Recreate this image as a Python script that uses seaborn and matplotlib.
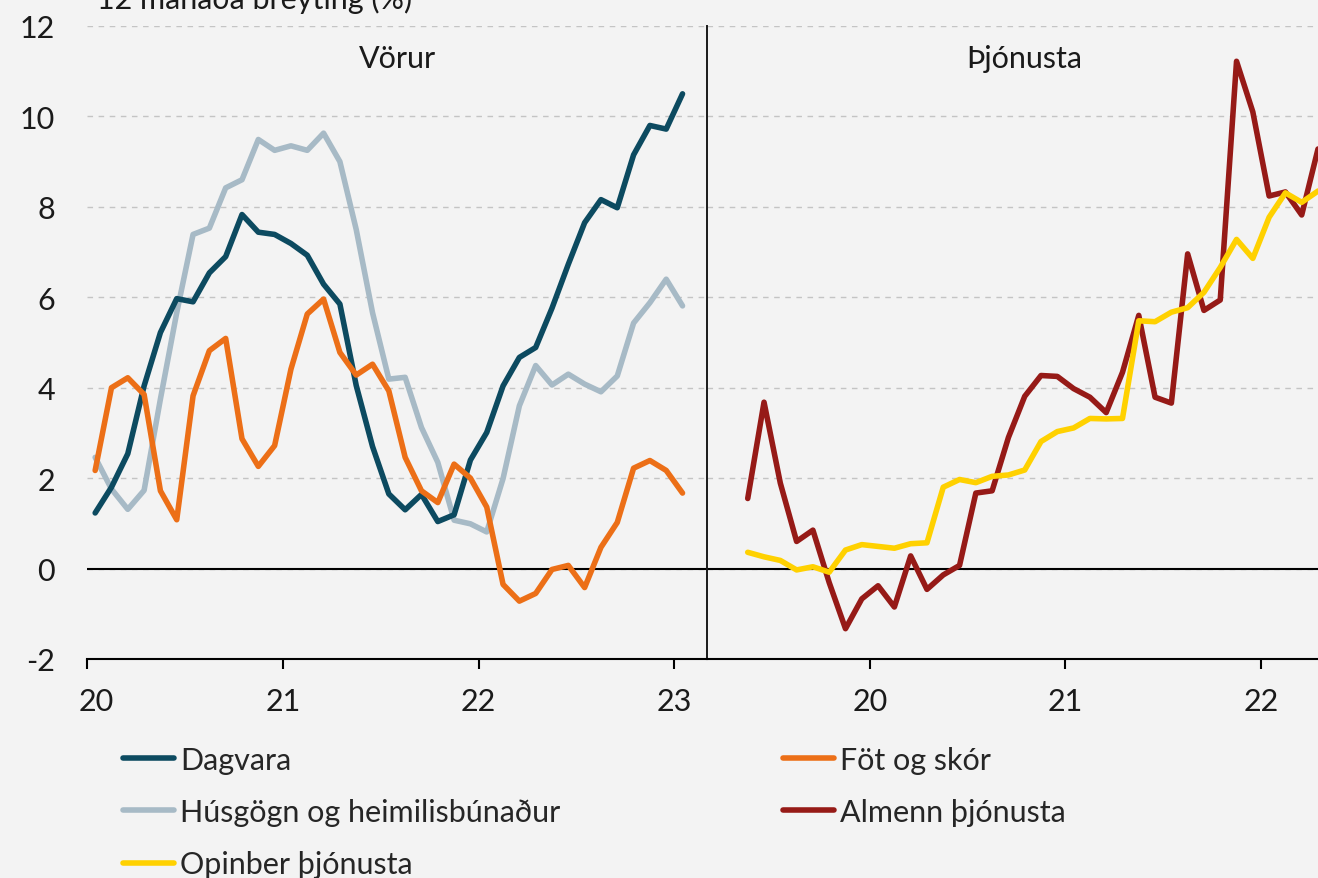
import numpy as np
import pandas as pd
import matplotlib
matplotlib.use("Agg")
import matplotlib.pyplot as plt
import matplotlib.transforms as mtransforms
import seaborn as sns

# =========================
# DATA (12 mánaða breyting, %)
# =========================
vorur_months = pd.date_range("2020-01-01", periods=37, freq="MS")
thjon_months = pd.date_range("2019-05-01", periods=36, freq="MS")

dagvara = [1.23, 1.8, 2.54, 4.04, 5.22, 5.97, 5.9, 6.54, 6.9, 7.83, 7.44, 7.39,
           7.19, 6.93, 6.29, 5.85, 4.05, 2.7, 1.65, 1.3, 1.64, 1.04, 1.19, 2.4,
           3.01, 4.04, 4.67, 4.89, 5.76, 6.73, 7.65, 8.16, 7.98, 9.15, 9.8, 9.72,
           10.5]
husgogn = [2.46, 1.76, 1.31, 1.73, 3.75, 5.66, 7.39, 7.53, 8.42, 8.6, 9.49, 9.25,
           9.35, 9.25, 9.63, 9.0, 7.5, 5.66, 4.19, 4.23, 3.12, 2.35, 1.07, 0.99,
           0.81, 1.99, 3.6, 4.49, 4.06, 4.3, 4.08, 3.91, 4.26, 5.43, 5.88, 6.4,
           5.81]
fot = [2.17, 4.0, 4.22, 3.85, 1.72, 1.08, 3.82, 4.82, 5.09, 2.87, 2.26, 2.72,
       4.41, 5.63, 5.96, 4.78, 4.28, 4.52, 3.93, 2.46, 1.72, 1.46, 2.31, 2.0,
       1.36, -0.35, -0.72, -0.55, -0.02, 0.07, -0.42, 0.47, 1.02, 2.22, 2.39, 2.17,
       1.67]
almenn = [1.55, 3.68, 1.89, 0.6, 0.85, -0.31, -1.33, -0.67, -0.38, -0.85,
          0.28, -0.46, -0.14, 0.07, 1.67, 1.72, 2.9, 3.81, 4.27, 4.25,
          3.98, 3.79, 3.45, 4.34, 5.6, 3.79, 3.66, 6.96, 5.71, 5.94,
          11.22, 10.1, 8.24, 8.33, 7.82, 9.28]
opinber = [0.36, 0.26, 0.18, -0.03, 0.04, -0.08, 0.41, 0.53, 0.49, 0.45,
           0.55, 0.57, 1.8, 1.97, 1.9, 2.04, 2.07, 2.18, 2.81, 3.03,
           3.11, 3.32, 3.31, 3.32, 5.48, 5.46, 5.67, 5.77, 6.11, 6.66,
           7.28, 6.86, 7.77, 8.31, 8.1, 8.35]

year_ticks = [2020, 2021, 2022, 2023]
colors = {
    "Dagvara": "#0c4a60",
    "Föt og skór": "#ec6f17",
    "Húsgögn og heimilisbúnaður": "#a7bac6",
    "Almenn þjónusta": "#961a17",
    "Opinber þjónusta": "#ffd100",
}

# =========================
# STYLE
# =========================
sns.set_theme(style="white")
plt.rcParams["font.family"] = ["Lato", "DejaVu Sans"]
BG = "#f3f3f3"
FS = 22
LW = 4.0


def month_pos(dates):
    # months since Jan 2020, centered in the month slot
    return (dates.year - 2020) * 12 + (dates.month - 1) + 0.5


W, H = 1318, 879
fig = plt.figure(figsize=(W / 100, H / 100), dpi=100, facecolor=BG)
bottom = 1 - 660 / H
height = (660 - 27) / H
ax1 = fig.add_axes([87 / W, bottom, (707 - 87) / W, height])
ax2 = fig.add_axes([707 / W, bottom, (W - 707) / W, height], sharey=ax1)

vorur = pd.DataFrame({
    "x": np.tile(month_pos(vorur_months), 3),
    "y": dagvara + husgogn + fot,
    "series": ["Dagvara"] * 37 + ["Húsgögn og heimilisbúnaður"] * 37 + ["Föt og skór"] * 37,
})
thjon = pd.DataFrame({
    "x": np.tile(month_pos(thjon_months), 2),
    "y": almenn + opinber,
    "series": ["Almenn þjónusta"] * 36 + ["Opinber þjónusta"] * 36,
})

for ax, df, order in [(ax1, vorur, ["Húsgögn og heimilisbúnaður", "Dagvara", "Föt og skór"]),
                      (ax2, thjon, ["Almenn þjónusta", "Opinber þjónusta"])]:
    ax.set_facecolor(BG)
    for name in order:
        sub = df[df["series"] == name]
        sns.lineplot(data=sub, x="x", y="y", ax=ax, color=colors[name], lw=LW,
                     legend=False, solid_capstyle="round", solid_joinstyle="round",
                     zorder=3)
        ax.lines[-1].set_label(name)
    ax.axhline(0, color="black", lw=1.5, zorder=2)
    ax.set_ylim(-2, 12)
    ax.set_yticks(range(-2, 13, 2))
    ax.yaxis.grid(True, color="#c4c4c4", lw=1.0, linestyle=(0, (4, 4)))
    ax.set_xlabel("")
    ax.set_ylabel("")
    for s in ["top", "right", "left"]:
        ax.spines[s].set_visible(False)
    ax.spines["bottom"].set_color("black")
    ax.spines["bottom"].set_linewidth(1.5)
    ax.tick_params(axis="x", direction="out", length=7.5, width=1.5, color="black",
                   pad=13, labelsize=FS, labelcolor="#1a1a1a", bottom=True)

ax1.set_xlim(0, 38)
ax2.set_xlim(-10, 27.5)

ax1.set_xticks([(y - 2020) * 12 for y in year_ticks])
ax1.set_xticklabels([str(y)[2:] for y in year_ticks])
ax2.set_xticks([(y - 2020) * 12 for y in year_ticks[:3]])
ax2.set_xticklabels([str(y)[2:] for y in year_ticks[:3]])

# first label sits a little right of its tick in the original
first = ax1.get_xticklabels()[0]
first.set_transform(first.get_transform() +
                    mtransforms.ScaledTranslation(0.09, 0, fig.dpi_scale_trans))

ax1.tick_params(axis="y", length=0, pad=23, labelsize=FS, labelcolor="#1a1a1a")
ax1.set_yticklabels(["-2", "0", "2", "4", "6", "8", "10", "12"])
ax2.tick_params(axis="y", length=0, labelleft=False)
ax2.spines["left"].set_visible(True)
ax2.spines["left"].set_color("#1a1a1a")
ax2.spines["left"].set_linewidth(1.4)

ax1.text(19, 11.3, "Vörur", ha="center", va="center", fontsize=FS, color="#1a1a1a")
ax2.text(0.52, 11.3, "Þjónusta", ha="center", va="center", fontsize=FS,
         color="#1a1a1a", transform=ax2.get_yaxis_transform())

fig.text(97 / W, 1 - 9 / H, "12 mánaða breyting (%)", ha="left", va="baseline",
         fontsize=FS, color="#1a1a1a")

# legend, two columns placed like the original
h = {l.get_label(): l for a in (ax1, ax2) for l in a.lines if not l.get_label().startswith("_")}
col1 = ["Dagvara", "Húsgögn og heimilisbúnaður", "Opinber þjónusta"]
col2 = ["Föt og skór", "Almenn þjónusta"]
for names, x0 in [(col1, 123), (col2, 783)]:
    fig.legend([h[n] for n in names], names, loc="upper left",
               bbox_to_anchor=(x0 / W, 1 - 747 / H), frameon=False, fontsize=FS,
               handlelength=1.67, handletextpad=0.2, labelspacing=0.79,
               borderpad=0, borderaxespad=0)

fig.savefig("out.png", dpi=100, facecolor=BG)
